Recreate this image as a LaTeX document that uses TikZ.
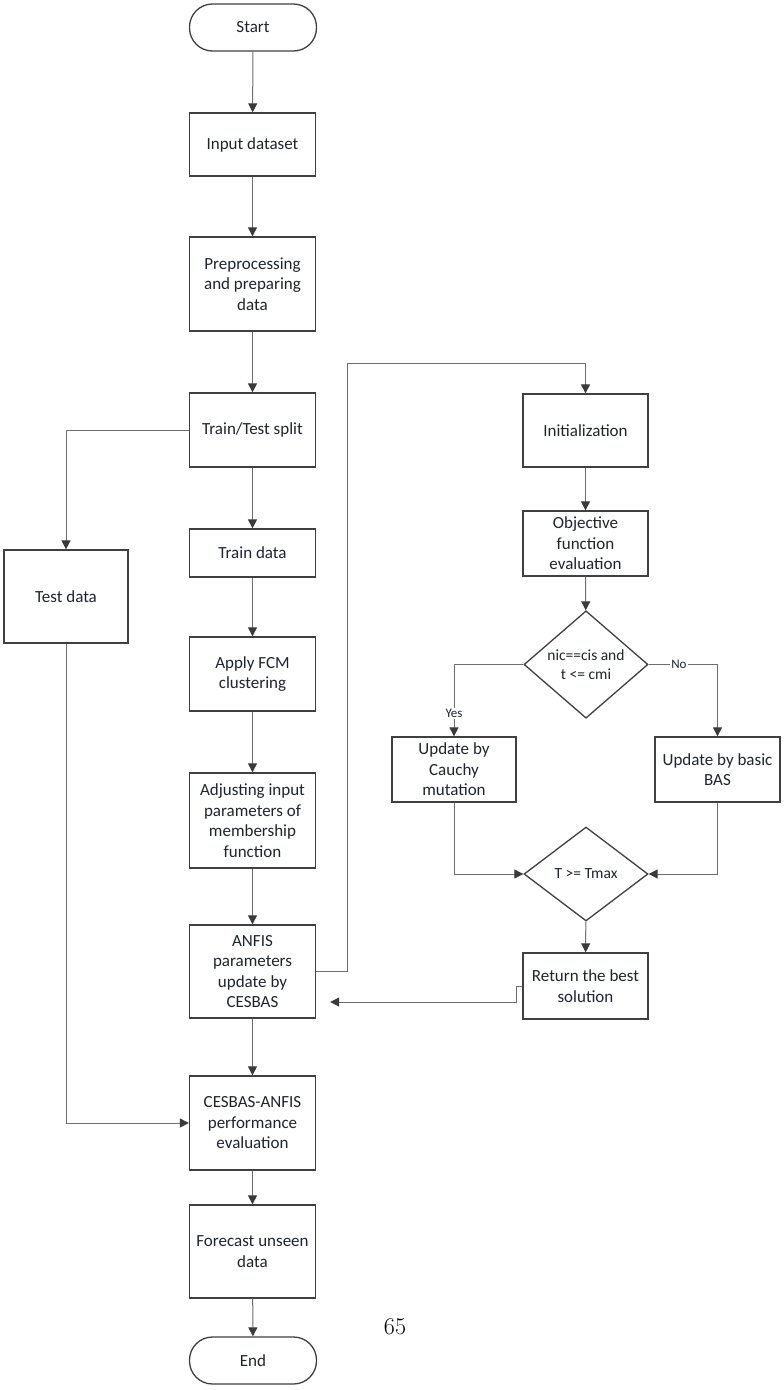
\documentclass[tikz,border=0pt]{standalone}
\usepackage{fontspec}
\usepackage{tikz}
\usetikzlibrary{arrows.meta,shapes.geometric}
\newfontfamily\boxfont{Carlito}
\definecolor{boxline}{HTML}{404040}
\definecolor{arrline}{HTML}{6E6E6E}
\definecolor{tipfill}{HTML}{3A3A3A}
\definecolor{boxtext}{HTML}{1E2430}

\tikzset{
  procbox/.style={draw=boxline, line width=1.3pt, fill=white, text=boxtext,
    align=center, inner sep=2pt, font=\boxfont\fontsize{17}{20.5}\selectfont},
  termbox/.style={procbox, rounded corners=23pt},
  decbox/.style={draw=boxline, line width=1.3pt, fill=white, text=boxtext, diamond,
    align=center, inner sep=0pt, font=\boxfont\fontsize{15.5}{19.5}\selectfont},
  flow/.style={draw=arrline, line width=1pt, -{Triangle[width=9pt,length=9pt,color=tipfill]}},
  tag/.style={fill=white, inner sep=1pt, text=boxtext, font=\boxfont\fontsize{13}{15}\selectfont}
}

\begin{document}
\begin{tikzpicture}[x=1pt,y=-1pt]
\useasboundingbox (0,0) rectangle (784,1390);
% main column
\node[termbox, minimum width=127pt, minimum height=47pt] (start) at (253,27.5) {Start};
\node[procbox, minimum width=126pt, minimum height=63pt] (input) at (252.5,144.5) {Input dataset};
\node[procbox, minimum width=126pt, minimum height=94pt] (prep) at (252.5,284) {Preprocessing\\and preparing\\data};
\node[procbox, minimum width=126pt, minimum height=74pt] (split) at (252.5,430) {Train/Test split};
\node[procbox, minimum width=126pt, minimum height=48pt] (train) at (252.5,553) {Train data};
\node[procbox, minimum width=126pt, minimum height=74pt] (fcm) at (252.5,674) {Apply FCM\\clustering};
\node[procbox, minimum width=126pt, minimum height=95pt] (adjust) at (252.5,820.5) {Adjusting input\\parameters of\\membership\\function};
\node[procbox, minimum width=126pt, minimum height=93pt] (anfis) at (252.5,971.5) {ANFIS\\parameters\\update by\\CESBAS};
\node[procbox, minimum width=126pt, minimum height=94pt] (perf) at (252.5,1123) {CESBAS-ANFIS\\performance\\evaluation};
\node[procbox, minimum width=126pt, minimum height=93pt] (forecast) at (252.5,1251.5) {Forecast unseen\\data};
\node[termbox, minimum width=127pt, minimum height=47pt] (end) at (253,1360.5) {End};
\node[procbox, minimum width=124pt, minimum height=93pt] (test) at (66,596.5) {Test data};
% optimiser column
\node[procbox, minimum width=125pt, minimum height=73pt] (init) at (585.5,430.5) {Initialization};
\node[procbox, minimum width=125pt, minimum height=65pt] (obj) at (585.5,543.5) {Objective\\function\\evaluation};
\node[decbox, minimum width=124pt, minimum height=94pt] (dec1) at (586,664.5) {nic==cis and\\t <= cmi};
\node[procbox, minimum width=124pt, minimum height=65pt] (cauchy) at (454,769.5) {Update by\\Cauchy\\mutation};
\node[procbox, minimum width=125pt, minimum height=65pt] (bas) at (717.5,769.5) {Update by basic\\BAS};
\node[decbox, minimum width=124pt, minimum height=94pt] (dec2) at (586,874) {T >= Tmax};
\node[procbox, minimum width=125pt, minimum height=66pt] (ret) at (585.5,986) {Return the best\\solution};
\node[font=\fontsize{24}{28}\selectfont] (pagenum) at (395,1327) {65};
\coordinate (loop) at (347,363);
\coordinate (bend) at (516,1002);

\draw[flow] (start) -- (input);
\draw[flow] (input) -- (prep);
\draw[flow] (prep) -- (split);
\draw[flow] (split) -- (train);
\draw[flow] (train) -- (fcm);
\draw[flow] (fcm) -- (adjust);
\draw[flow] (adjust) -- (anfis);
\draw[flow] (anfis) -- (perf);
\draw[flow] (perf) -- (forecast);
\draw[flow] (forecast) -- (end);
\draw[flow] (split.west) -| (test.north);
\draw[flow] (test.south) |- (perf.west);
\draw[flow] (anfis.east) -| (loop) -| (init.north);
\draw[flow] (init) -- (obj);
\draw[flow] (obj) -- (dec1);
\draw[flow] (dec1.west) -| node[tag, pos=0.84] {Yes} (cauchy.north);
\draw[flow] (dec1.east) -| node[tag, pos=0.22] {No} (bas.north);
\draw[flow] (cauchy.south) |- (dec2.west);
\draw[flow] (bas.south) |- (dec2.east);
\draw[flow] (dec2) -- (ret);
\draw[flow, shorten >=14pt] (ret.west) -| (bend) -- (anfis.east |- bend);
\end{tikzpicture}
\end{document}
